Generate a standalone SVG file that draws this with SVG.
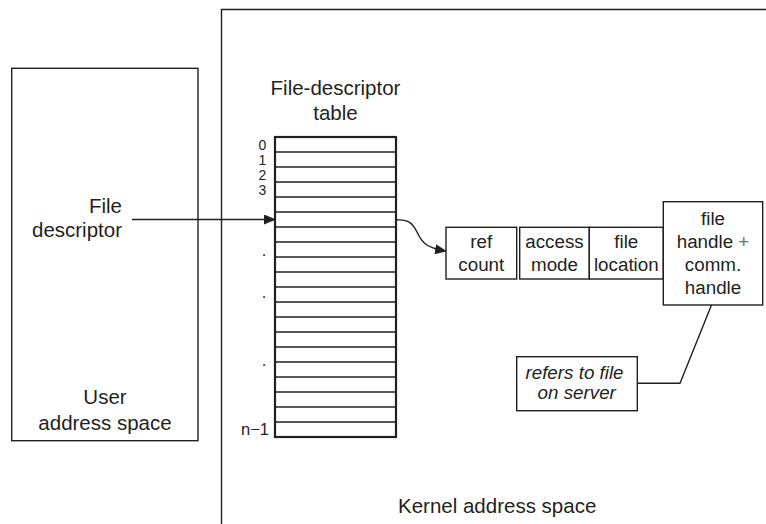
<svg xmlns="http://www.w3.org/2000/svg" width="766" height="524" viewBox="0 0 766 524">
<defs>
<style>
text{font-family:"Liberation Sans",Arial,Helvetica,sans-serif;fill:#231f20;}
.big{font-size:20.5px;}
.mid{font-size:18.8px;}
.num{font-size:16.5px;}
.dig{font-size:14px;}
.box{fill:#fff;stroke:#231f20;stroke-width:1.4;}
.ln{fill:none;stroke:#231f20;stroke-width:1.4;}
.row{stroke:#231f20;stroke-width:1.4;}
.it{font-style:italic;}
</style>
<marker id="ah" viewBox="0 0 12 10" refX="11" refY="5" markerWidth="12" markerHeight="10" markerUnits="userSpaceOnUse" orient="auto">
<path d="M0,0 L12,5 L0,10 Z" fill="#231f20"/>
</marker>
</defs>
<rect width="766" height="524" fill="#fff"/>

<g id="kernel-space">
<path class="ln" d="M221.5,524 V9.5 H766" stroke-width="1.6"/>
<text class="big" x="398" y="513">Kernel address space</text>
</g>

<g id="user-space">
<rect class="box" x="11.7" y="68.3" width="186.3" height="372.4"/>
<text class="big" x="105" y="404" text-anchor="middle">User</text>
<text class="big" x="105" y="430" text-anchor="middle">address space</text>
<text class="big" x="122" y="213" text-anchor="end">File</text>
<text class="big" x="122" y="237" text-anchor="end">descriptor</text>
</g>

<g id="fd-table">
<text class="big" x="335.5" y="95" text-anchor="middle">File-descriptor</text>
<text class="big" x="335.5" y="120" text-anchor="middle">table</text>
<rect x="275" y="137" width="121" height="300" fill="#fff" stroke="#231f20" stroke-width="2.2"/>
<g class="rows">
<line class="row" x1="275" x2="396" y1="152" y2="152"/>
<line class="row" x1="275" x2="396" y1="167" y2="167"/>
<line class="row" x1="275" x2="396" y1="182" y2="182"/>
<line class="row" x1="275" x2="396" y1="197" y2="197"/>
<line class="row" x1="275" x2="396" y1="212" y2="212"/>
<line class="row" x1="275" x2="396" y1="227" y2="227"/>
<line class="row" x1="275" x2="396" y1="242" y2="242"/>
<line class="row" x1="275" x2="396" y1="257" y2="257"/>
<line class="row" x1="275" x2="396" y1="272" y2="272"/>
<line class="row" x1="275" x2="396" y1="287" y2="287"/>
<line class="row" x1="275" x2="396" y1="302" y2="302"/>
<line class="row" x1="275" x2="396" y1="317" y2="317"/>
<line class="row" x1="275" x2="396" y1="332" y2="332"/>
<line class="row" x1="275" x2="396" y1="347" y2="347"/>
<line class="row" x1="275" x2="396" y1="362" y2="362"/>
<line class="row" x1="275" x2="396" y1="377" y2="377"/>
<line class="row" x1="275" x2="396" y1="392" y2="392"/>
<line class="row" x1="275" x2="396" y1="407" y2="407"/>
<line class="row" x1="275" x2="396" y1="422" y2="422"/>
</g>
<text class="dig" x="262.5" y="149.5" text-anchor="middle">0</text>
<text class="dig" x="262.5" y="164.5" text-anchor="middle">1</text>
<text class="dig" x="262.5" y="179.5" text-anchor="middle">2</text>
<text class="dig" x="262.5" y="194.5" text-anchor="middle">3</text>
<text class="num" x="264" y="256" text-anchor="middle">.</text>
<text class="num" x="264" y="298" text-anchor="middle">.</text>
<text class="num" x="264" y="366" text-anchor="middle">.</text>
<text class="num" x="269" y="435" text-anchor="end">n−1</text>
</g>

<g id="file-entry">
<rect class="box" x="446" y="227.3" width="70.7" height="51.7"/>
<rect class="box" x="519.7" y="227.3" width="69.6" height="51.7"/>
<rect class="box" x="589.3" y="227.3" width="74" height="51.7"/>
<text class="mid" x="481.3" y="248.3" text-anchor="middle">ref</text>
<text class="mid" x="481.3" y="271" text-anchor="middle">count</text>
<text class="mid" x="554.5" y="248.3" text-anchor="middle">access</text>
<text class="mid" x="554.5" y="271" text-anchor="middle">mode</text>
<text class="mid" x="626.3" y="248.3" text-anchor="middle">file</text>
<text class="mid" x="626.3" y="271" text-anchor="middle">location</text>
</g>

<g id="file-handle">
<rect class="box" x="663.3" y="201.7" width="99.4" height="103.3"/>
<text class="mid" x="713" y="225" text-anchor="middle">file</text>
<text class="mid" x="713" y="248" text-anchor="middle">handle <tspan fill="#6d6e71">+</tspan></text>
<text class="mid" x="713" y="271" text-anchor="middle">comm.</text>
<text class="mid" x="713" y="293.5" text-anchor="middle">handle</text>
</g>

<g id="server-note">
<rect class="box" x="516.7" y="356.7" width="120.6" height="54"/>
<text class="mid it" x="574.5" y="379" text-anchor="middle">refers to file</text>
<text class="mid it" x="576.7" y="399.3" text-anchor="middle">on server</text>
</g>

<g id="connectors">
<line class="ln" x1="132" y1="219.5" x2="275" y2="219.5" marker-end="url(#ah)"/>
<path class="ln" d="M396,220 C409,219 413,224 417,232 C422,243 427,248 446,251" marker-end="url(#ah)" stroke-width="1.6"/>
<path class="ln" d="M637.3,383.3 H680 L711.5,305"/>
</g>
</svg>
